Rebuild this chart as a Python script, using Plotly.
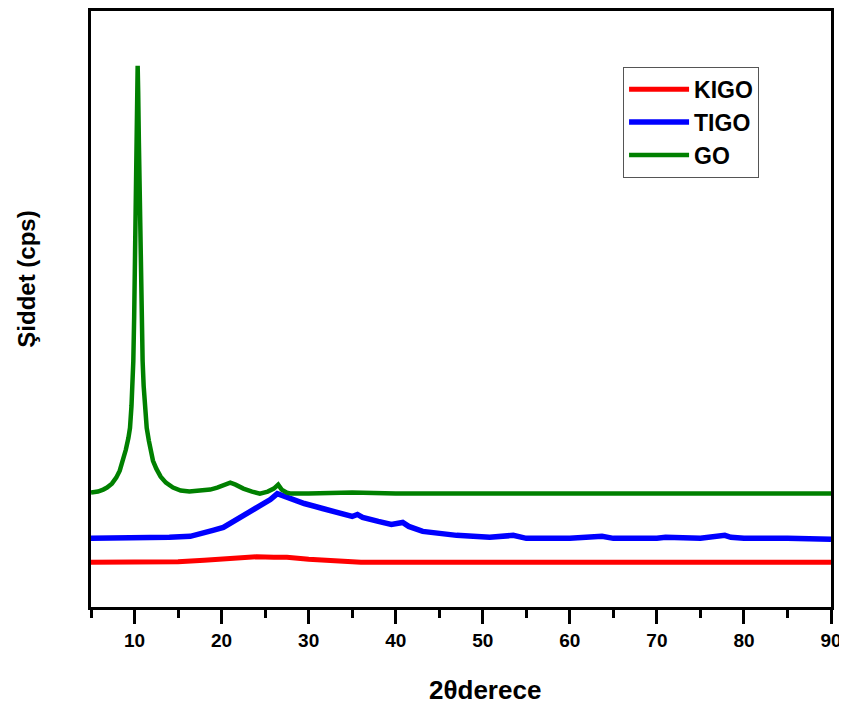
import plotly.graph_objects as go

# ---- data (2-theta in degrees, intensity in arbitrary cps) ----
go_x = [5.0, 5.8, 6.4, 6.84, 7.4, 7.9, 8.3, 8.68, 9.0, 9.3, 9.48, 9.65, 9.78, 9.86, 9.96,
        10.05, 10.13, 10.22, 10.3, 10.36, 10.42, 10.5, 10.6, 10.71, 10.82, 10.93, 11.05,
        11.2, 11.4, 11.65, 11.9, 12.12, 12.5, 13.0, 13.6, 14.42, 15.3, 16.3,
        17.5, 18.7, 19.5, 20.3, 21.0, 21.6, 22.5, 23.5, 24.4, 25.3, 26.0, 26.5, 26.9,
        27.5, 28.0, 30, 35, 40, 50, 60, 70, 80, 90]
go_y = [1150, 1160, 1180, 1200, 1240, 1300, 1370, 1470, 1580, 1700, 1800, 2020, 2220, 2470, 2920,
        3470, 4070, 4670, 5170, 5440, 5170, 4670, 4070, 3470, 2920, 2470, 2220,
        2020, 1800, 1670, 1560, 1470, 1390, 1310, 1250, 1200, 1170, 1160,
        1170, 1180, 1200, 1230, 1250, 1230, 1190, 1160, 1140, 1160, 1190, 1230, 1180,
        1150, 1140, 1140, 1150, 1140, 1140, 1140, 1140, 1140, 1140]

tigo_x = [5, 8, 10, 12, 14, 16.4, 18, 19, 20.2, 21.2, 22.1, 23.1, 24.1, 25.0, 25.6, 26.4,
          27.0, 27.9, 29.5, 31.6, 33.5, 35.0, 35.6, 36.2, 38, 39.5, 40.8, 41.5, 43.1, 45,
          47, 50.8, 53.5, 55, 60, 63.7, 65, 70, 71, 75, 77.3, 77.8, 78.5, 80, 85, 90]
tigo_y = [690, 690, 690, 690, 700, 710, 740, 770, 800, 850, 890, 940, 990, 1040, 1080, 1140,
          1120, 1090, 1040, 990, 940, 910, 930, 900, 860, 830, 850, 810, 760, 740,
          720, 700, 720, 690, 690, 710, 690, 690, 700, 690, 710, 720, 700, 690, 690, 680]

kigo_x = [5, 10, 15, 18, 20, 22, 24, 26, 27.5, 30, 33, 36, 40, 50, 60, 70, 80, 90]
kigo_y = [450, 450, 455, 470, 485, 500, 505, 500, 500, 480, 460, 450, 450, 450, 450, 450, 450, 450]

names = ["KIGO", "TIGO", "GO"]
colors = ["#FF0000", "#0000FF", "#008000"]
widths = [5, 5.5, 4.5]

x_range = [5, 90]
y_range = [0, 5990]

FONT = "Arial, Liberation Sans, sans-serif"

fig = go.Figure()
for nm, xs, ys, c, w in zip(names, [kigo_x, tigo_x, go_x], [kigo_y, tigo_y, go_y], colors, widths):
    fig.add_trace(go.Scatter(x=xs, y=ys, mode="lines", name=nm,
                             line=dict(color=c, width=w)))

fig.update_layout(
    width=839, height=698,
    margin=dict(l=83, r=16, t=0, b=99),
    plot_bgcolor="white", paper_bgcolor="white",
    font=dict(family=FONT, color="black", size=19, weight="bold"),
    showlegend=True,
    legend=dict(x=0.719, y=0.9065, xanchor="left", yanchor="top",
                bordercolor="#555555", borderwidth=1, bgcolor="white",
                font=dict(family=FONT, size=23, color="black", weight="bold"),
                itemwidth=60),
    xaxis=dict(range=x_range, tick0=10, dtick=10, ticks="outside", ticklen=14, tickwidth=3,
               tickcolor="black", showline=True, linewidth=3, linecolor="black", mirror=True,
               showgrid=False, zeroline=False,
               tickfont=dict(family=FONT, size=19, color="black", weight="bold"),
               minor=dict(ticks="outside", ticklen=8, tickwidth=3, tickcolor="black",
                          tick0=5, dtick=5, showgrid=False)),
    yaxis=dict(range=y_range, showticklabels=False, ticks="", showline=True, linewidth=3,
               linecolor="black", mirror=True, showgrid=False, zeroline=False),
    annotations=[
        dict(text="2\u03b8derece", xref="paper", yref="paper",
             x=394 / 740, y=-83 / 599, xanchor="center", yanchor="middle",
             showarrow=False, font=dict(family=FONT, size=26, color="black", weight="bold")),
        dict(text="\u015eiddet (cps)", xref="paper", yref="paper", textangle=-90,
             x=-64 / 740, y=329 / 599, xanchor="center", yanchor="middle",
             showarrow=False, font=dict(family=FONT, size=24, color="black", weight="bold")),
    ],
)

fig.write_html("out.html")
